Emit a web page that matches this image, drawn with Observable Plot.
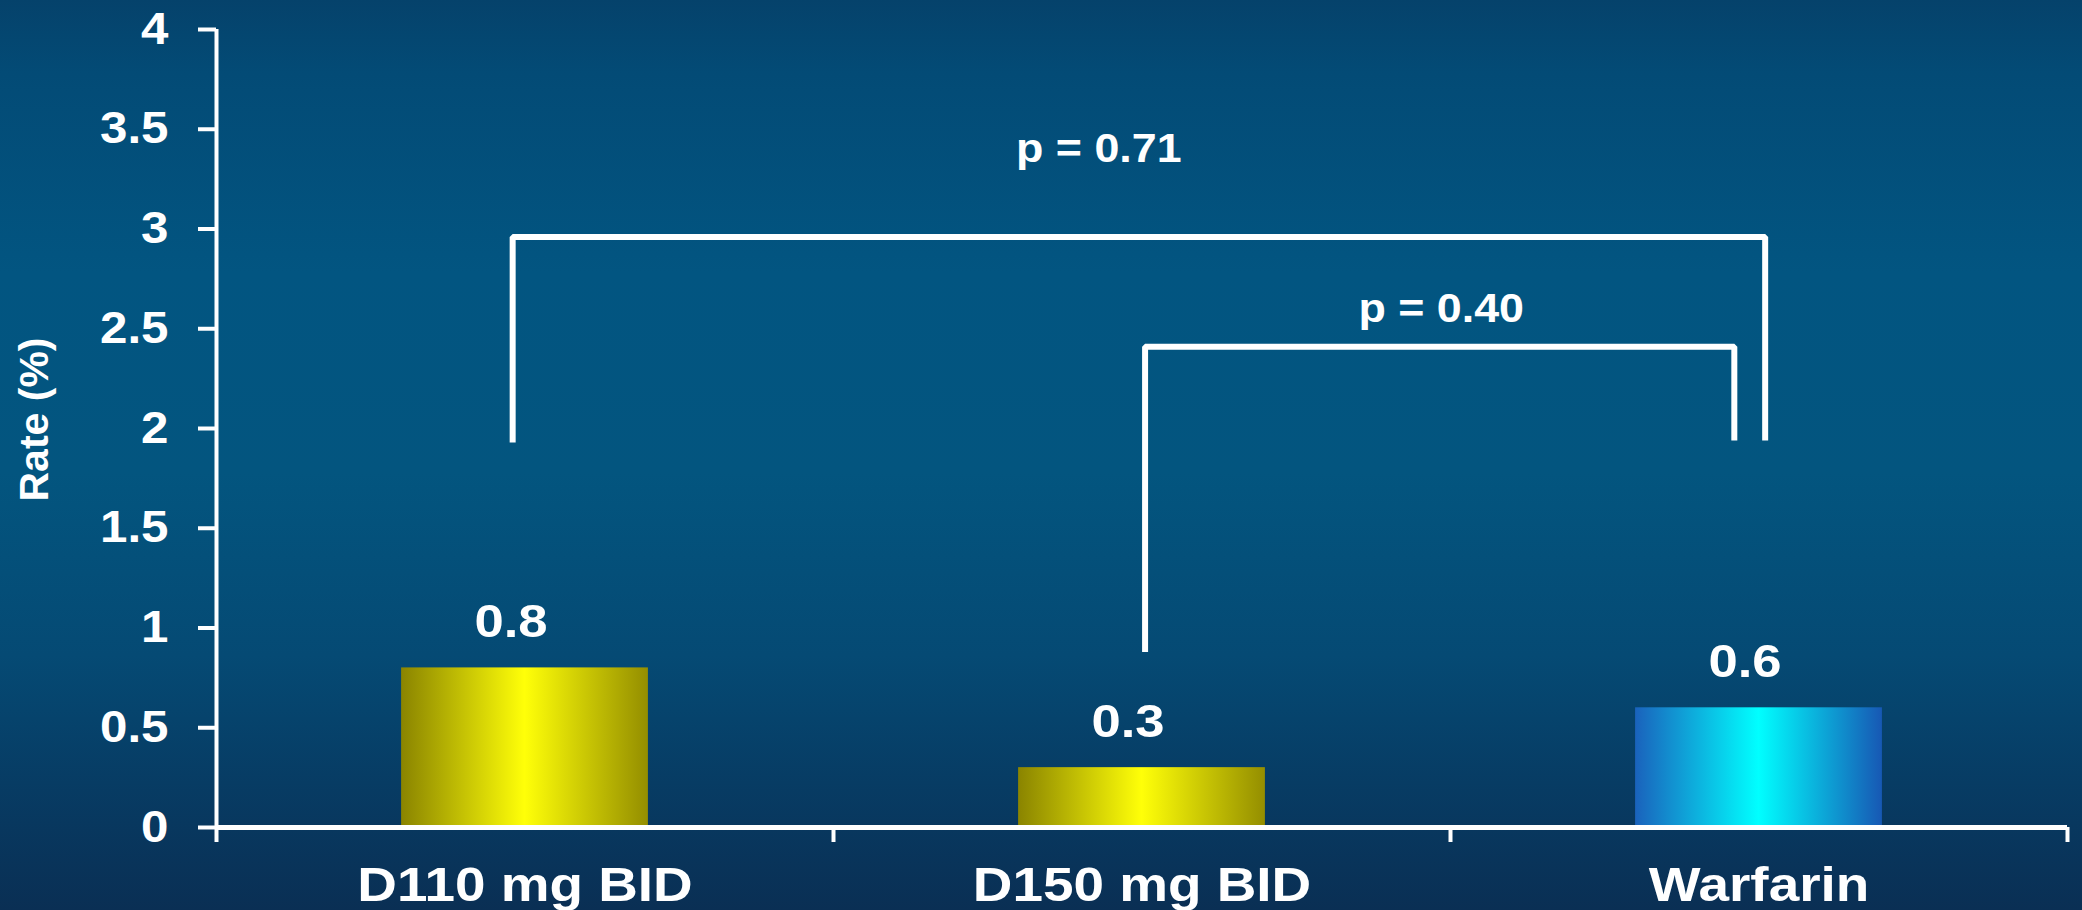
<!DOCTYPE html>
<html>
<head>
<meta charset="utf-8">
<script src="https://cdn.jsdelivr.net/npm/d3@7"></script>
<script src="https://cdn.jsdelivr.net/npm/@observablehq/plot@0.6"></script>
<style>
  html, body { margin: 0; padding: 0; background: #03507c; overflow: hidden; }
</style>
</head>
<body>
<div id="chart"></div>
<script>
// Event rates by treatment arm
const categories = ["D110 mg BID", "D150 mg BID", "Warfarin"];
const rates = [0.8, 0.3, 0.6];
const yTicks = [0, 0.5, 1, 1.5, 2, 2.5, 3, 3.5, 4];

// Significance brackets: ends along the category axis (index units), levels in rate units
const bracketStart = [-0.02, 1.005];
const bracketEnd = [2.01, 1.96];
const bracketTop = [2.96, 2.41];
const bracketStartFoot = [1.93, 0.88];
const bracketEndFoot = [1.94, 1.94];
const pValues = ["0.71", "0.40"];
const pLabelX = [0.93, 1.485];
const pLabelY = [3.40, 2.60];

const bars = categories.map((category, index) => ({category, index, rate: rates[index]}));

const bracketPoints = bracketStart.flatMap((x0, k) => [
  {k, x: x0, y: bracketStartFoot[k]},
  {k, x: x0, y: bracketTop[k]},
  {k, x: bracketEnd[k], y: bracketTop[k]},
  {k, x: bracketEnd[k], y: bracketEndFoot[k]}
]);

const pLabels = pValues.map((p, k) => ({x: pLabelX[k], y: pLabelY[k], text: `p = ${p}`}));

const categoryBounds = d3.range(categories.length + 1).map((i) => i - 0.5);

const plot = Plot.plot({
  width: 2082,
  height: 910,
  marginLeft: 216,
  marginRight: 15,
  marginTop: 29,
  marginBottom: 83,
  style: {
    background: "linear-gradient(to bottom, #05426b 0%, #034b76 8%, #025581 30%, #03557f 52%, #054a74 72%, #073c64 86%, #0a2f54 100%)",
    color: "white",
    fontFamily: "'Liberation Sans', Arial, sans-serif",
    fontWeight: "bold",
    overflow: "visible"
  },
  x: {domain: [-0.5, categories.length - 0.5], label: null},
  y: {domain: [0, 4], label: null},
  color: {type: "identity"},
  marks: [
    // bars with a horizontal sheen
    Plot.rect(bars, {
      x1: (d) => d.index - 0.2,
      x2: (d) => d.index + 0.2,
      y1: 0,
      y2: "rate",
      fill: (d) => d.category === "Warfarin" ? "url(#sheen-warfarin)" : "url(#sheen-dabigatran)"
    }),
    // y axis
    Plot.ruleX([-0.5], {stroke: "white", strokeWidth: 4}),
    Plot.axisY(yTicks, {
      anchor: "left",
      tickSize: 18,
      tickPadding: 30,
      strokeWidth: 4,
      tickFormat: (d) => String(d),
      fontSize: 44,
      label: null
    }),
    // x axis with ticks at category boundaries
    Plot.ruleY([0], {stroke: "white", strokeWidth: 5}),
    Plot.axisX(categoryBounds, {
      anchor: "bottom",
      tickSize: 15,
      strokeWidth: 4,
      tickFormat: () => "",
      label: null
    }),
    Plot.text(bars, {x: "index", y: 0, text: "category", dy: 58, fontSize: 49}),
    // value labels
    Plot.text(bars, {x: "index", y: "rate", text: (d) => String(d.rate), dy: -46, dx: -14, fontSize: 47}),
    // comparison brackets
    Plot.line(bracketPoints, {
      x: "x", y: "y", z: "k",
      stroke: "white", strokeWidth: 6,
      strokeLinejoin: "miter", strokeLinecap: "butt"
    }),
    Plot.text(pLabels, {x: "x", y: "y", text: "text", fontSize: 40}),
    // y axis title
    Plot.text(["Rate (%)"], {frameAnchor: "left", textAnchor: "middle", rotate: -90, dx: -182, dy: -9, fontSize: 41})
  ]
});

// gradient fills for the bars
const ns = "http://www.w3.org/2000/svg";
const defs = document.createElementNS(ns, "defs");
function sheen(id, stops) {
  const g = document.createElementNS(ns, "linearGradient");
  g.setAttribute("id", id);
  g.setAttribute("x1", "0");
  g.setAttribute("x2", "1");
  g.setAttribute("y1", "0");
  g.setAttribute("y2", "0");
  for (const [offset, color] of stops) {
    const s = document.createElementNS(ns, "stop");
    s.setAttribute("offset", offset);
    s.setAttribute("stop-color", color);
    g.appendChild(s);
  }
  defs.appendChild(g);
}
sheen("sheen-dabigatran", [[0, "#8a8400"], [0.5, "#ffff08"], [1, "#948e00"]]);
sheen("sheen-warfarin", [[0, "#1a62bc"], [0.5, "#00ffff"], [1, "#1758b4"]]);
plot.insertBefore(defs, plot.firstChild);

// widen the horizontal lettering slightly around each label's own anchor
const widen = 1.12;
for (const t of plot.querySelectorAll("text")) {
  const tr = t.getAttribute("transform") || "";
  if (tr.includes("rotate")) continue;
  const xs = t.getAttribute("x");
  const x = xs !== null && isFinite(+xs) ? +xs : 0;
  const stretch = x ? `translate(${x},0) scale(${widen},1) translate(${-x},0)` : `scale(${widen},1)`;
  t.setAttribute("transform", `${tr} ${stretch}`.trim());
}

document.getElementById("chart").appendChild(plot);
</script>
</body>
</html>
